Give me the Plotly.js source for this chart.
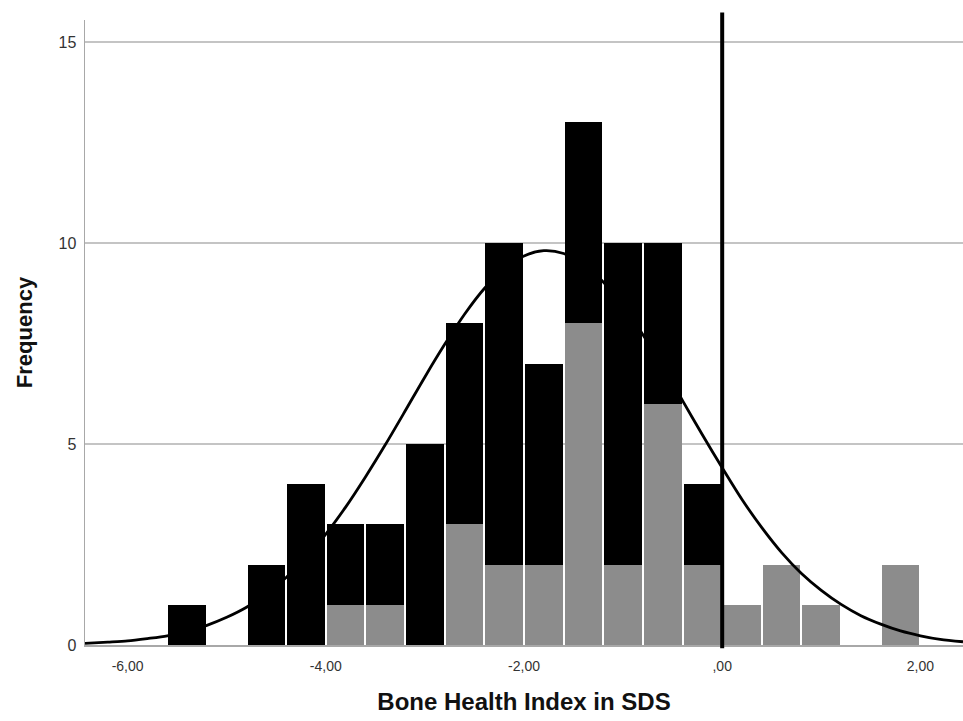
<!DOCTYPE html>
<html>
<head>
<meta charset="utf-8">
<script src="https://cdn.plot.ly/plotly-3.0.1.min.js"></script>
<style>html,body{margin:0;padding:0;background:#fff;}#chart{width:963px;height:721px;}</style>
</head>
<body>
<div id="chart"></div>
<script>
// Histogram bins (width 0.4), bin centres
const binCenters = [-5.4,-5.0,-4.6,-4.2,-3.8,-3.4,-3.0,-2.6,-2.2,-1.8,-1.4,-1.0,-0.6,-0.2,0.2,0.6,1.0,1.4,1.8];
// grey (lower) segment counts
const greyCounts = [0,0,0,0,1,1,0,3,2,2,8,2,6,2,1,2,1,0,2];
// black (upper) segment counts
const blackCounts = [1,0,2,4,2,2,5,5,8,5,5,8,4,2,0,0,0,0,0];

// Fitted normal curve
const curveX = [-6.43,-6.2,-6.0,-5.8,-5.6,-5.4,-5.2,-5.0,-4.8,-4.6,-4.4,-4.2,-4.0,-3.8,-3.6,-3.4,-3.2,-3.0,-2.8,-2.6,-2.4,-2.2,-2.0,-1.8,-1.6,-1.4,-1.2,-1.0,-0.8,-0.6,-0.4,-0.2,0.0,0.2,0.4,0.6,0.8,1.0,1.2,1.4,1.6,1.8,2.0,2.2,2.43];
const curveY = [0.04,0.07,0.10,0.16,0.23,0.34,0.49,0.69,0.94,1.27,1.68,2.17,2.76,3.43,4.18,4.98,5.82,6.67,7.48,8.23,8.87,9.36,9.68,9.81,9.74,9.47,9.03,8.43,7.72,6.92,6.08,5.23,4.41,3.62,2.92,2.30,1.78,1.36,1.01,0.73,0.52,0.35,0.23,0.14,0.08];

const xTickVals = [-6,-4,-2,0,2];
const xTickText = ["-6,00","-4,00","-2,00",",00","2,00"];
const yTickVals = [0,5,10,15];
const refLineX = 0;

const traces = [
  {type:'bar', x:binCenters, y:greyCounts, marker:{color:'#8c8c8c'}, hoverinfo:'skip', showlegend:false},
  {type:'bar', x:binCenters, y:blackCounts, marker:{color:'#000000'}, hoverinfo:'skip', showlegend:false},
  {type:'scatter', mode:'lines', x:curveX, y:curveY, line:{color:'#000', width:2.8, shape:'spline', smoothing:0.8}, hoverinfo:'skip', showlegend:false}
];

const layout = {
  width:963, height:721,
  margin:{l:85, r:0, t:20, b:76},
  paper_bgcolor:'#fff', plot_bgcolor:'#fff',
  barmode:'stack', bargap:0.05,
  showlegend:false,
  font:{family:'Liberation Sans, Arial, sans-serif', color:'#333'},
  xaxis:{
    range:[-6.43,2.43], tickvals:xTickVals, ticktext:xTickText,
    showgrid:false, zeroline:false, showline:true, linecolor:'#a8a8a8', linewidth:1.5,
    ticks:'', ticklabelstandoff:8, tickfont:{size:14, color:'#333'},
    title:{text:'<b>Bone Health Index in SDS</b>', font:{size:24, color:'#111'}, standoff:20}
  },
  yaxis:{
    range:[0,15.55], tickvals:yTickVals,
    showgrid:true, gridcolor:'#c4c4c4', gridwidth:1.5,
    zeroline:false, showline:true, linecolor:'#a8a8a8', linewidth:1.5,
    ticks:'', ticklabelstandoff:4, tickfont:{size:16, color:'#333'},
    title:{text:'<b>Frequency</b>', font:{size:22, color:'#111'}, standoff:20}
  },
  shapes:[
    {type:'line', xref:'x', yref:'paper', x0:refLineX, x1:refLineX, y0:-0.005, y1:1.012, line:{color:'#000', width:4}}
  ]
};

Plotly.newPlot('chart', traces, layout, {displayModeBar:false, staticPlot:true});
</script>
</body>
</html>
